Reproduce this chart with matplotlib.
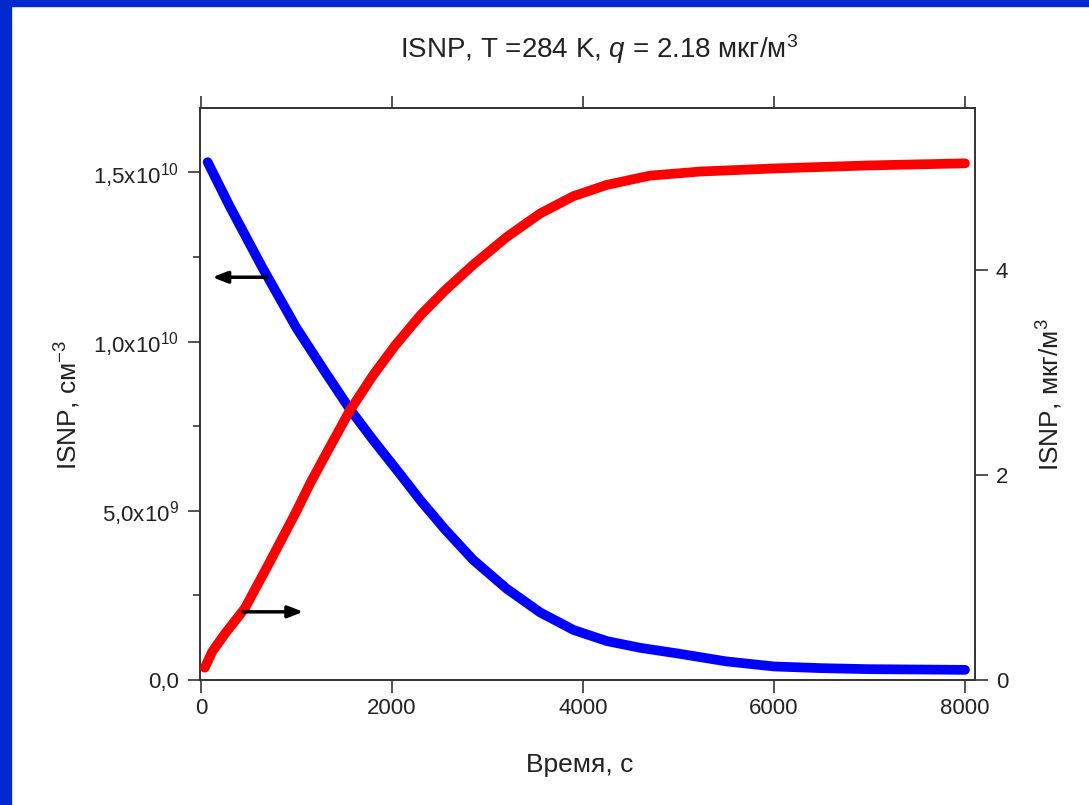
import numpy as np
import matplotlib
matplotlib.use("Agg")
import matplotlib.pyplot as plt
from matplotlib.patches import Rectangle
from matplotlib.ticker import MultipleLocator

plt.rcParams['font.family'] = ['Liberation Sans', 'DejaVu Sans']
plt.rcParams['mathtext.fontset'] = 'custom'
plt.rcParams['mathtext.rm'] = 'Liberation Sans'
plt.rcParams['mathtext.it'] = 'Liberation Sans:italic'

# concentration (left axis), cm^-3
t_conc = [70, 300, 640, 1000, 1300, 1560, 1800, 2080, 2300, 2555, 2850,
          3200, 3550, 3900, 4250, 4600, 5000, 5500, 6000, 6500, 7000,
          7500, 8000]
conc = [1.53e10, 1.40e10, 1.22e10, 1.04e10, 0.91e10, 0.80e10, 0.71e10,
        0.61e10, 0.53e10, 0.445e10, 0.355e10, 0.27e10, 0.20e10, 0.148e10,
        0.115e10, 0.095e10, 0.078e10, 0.055e10, 0.04e10, 0.035e10,
        0.032e10, 0.031e10, 0.03e10]

# mass (right axis), ug/m^3
t_mass = [40, 120, 250, 460, 720, 985, 1150, 1330, 1560, 1800, 2030, 2300,
          2555, 2850, 3200, 3550, 3900, 4250, 4700, 5225, 6000, 7000, 8000]
mass = [0.12, 0.28, 0.45, 0.70, 1.15, 1.62, 1.93, 2.24, 2.63, 2.97, 3.26,
        3.56, 3.80, 4.05, 4.32, 4.55, 4.72, 4.83, 4.92, 4.96, 4.99, 5.02,
        5.04]

left_ticks = [0, 5e9, 1e10, 1.5e10]
left_labels = ['0,0', r'5,0x10$^{9}$', r'1,0x10$^{10}$', r'1,5x10$^{10}$']

W, H = 1089, 805
fig = plt.figure(figsize=(W / 100, H / 100), dpi=100)
ax = fig.add_axes([200 / W, 1 - 680 / H, 775 / W, 572 / H])
ax2 = ax.twinx()

ax.plot(t_conc, conc, color='#0000ff', lw=7, solid_capstyle='round',
        solid_joinstyle='round', zorder=3)
ax2.plot(t_mass, mass, color='#ff0000', lw=7, solid_capstyle='round',
         solid_joinstyle='round', zorder=3)

ax.set_xlim(-10, 8105)
ax.set_ylim(0, 1.69e10)
ax2.set_ylim(0, 5.58)

txt = '#222222'
spine_c = '#333333'
for a in (ax, ax2):
    for s in a.spines.values():
        s.set_color(spine_c)
        s.set_linewidth(1.2)

ax.set_xticks([0, 2000, 4000, 6000, 8000])
ax.set_yticks(left_ticks)
ax.set_yticklabels(left_labels)
ax.yaxis.set_minor_locator(MultipleLocator(2.5e9))
ax.tick_params(axis='both', which='major', direction='out', length=9,
               width=1.2, color=spine_c, labelsize=16, labelcolor=txt)
ax.tick_params(axis='y', which='minor', direction='out', length=5,
               width=1.2, color=spine_c)
ax.tick_params(axis='x', top=True, labeltop=False, pad=4)
ax.tick_params(axis='y', pad=6)

ax2.set_yticks([0, 2, 4])
ax2.tick_params(axis='y', direction='out', length=9, width=1.2,
                color=spine_c, labelsize=16, labelcolor=txt, pad=6)

fig.text(580 / W, 1 - 765 / H, 'Время, с', ha='center', va='center',
         fontsize=19, color=txt)
fig.text(68 / W, 1 - 405 / H, 'ISNP, см$^{-3}$', rotation=90,
         ha='center', va='center', fontsize=19, color=txt)
fig.text(1050 / W, 1 - 395 / H, 'ISNP, мкг/м$^{3}$', rotation=90,
         ha='center', va='center', fontsize=19, color=txt)
fig.text(599 / W, 1 - 49 / H,
         'ISNP, T =284 K, $q$ = 2.18 мкг/м$^{3}$',
         ha='center', va='center', fontsize=20, color=txt)

# arrows pointing to the matching axis
arrow = dict(arrowstyle='-|>,head_length=0.9,head_width=0.35',
             color='black', lw=2.5)
ax.annotate('', xy=(90, 1.19e10), xytext=(720, 1.19e10),
            arrowprops=arrow, zorder=4)
ax2.annotate('', xy=(1100, 0.665), xytext=(410, 0.665),
             arrowprops=arrow, zorder=4)

# blue slide frame
border = '#0228d0'
fig.patches.append(Rectangle((0, 0), 11 / W, 1, transform=fig.transFigure,
                             color=border, zorder=0))
fig.patches.append(Rectangle((0, 1 - 6 / H), 1, 6 / H,
                             transform=fig.transFigure, color=border, zorder=0))

fig.savefig('out.png', dpi=100)
